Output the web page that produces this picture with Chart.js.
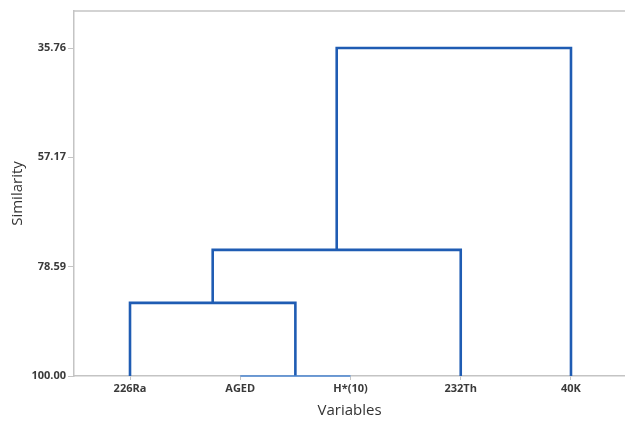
<!DOCTYPE html>
<html>
<head>
<meta charset="utf-8">
<script src="https://cdn.jsdelivr.net/npm/chart.js@4/dist/chart.umd.min.js"></script>
<style>
  html, body { margin: 0; padding: 0; background: #fff; }
  #wrap { width: 625px; height: 422px; }
</style>
</head>
<body>
<div id="wrap"><canvas id="dendro"></canvas></div>
<script>
// leaves, left to right
var categories = ['226Ra', 'AGED', 'H*(10)', '232Th', '40K'];
// merge steps: nodes 0-4 are leaves, each merge makes node 5, 6, ...
var mergeLeft = [1, 0, 6, 7];
var mergeRight = [2, 5, 3, 4];
var mergeSimilarity = [100.00, 85.68, 75.29, 35.76];
var yTickValues = [35.76, 57.17, 78.59, 100.00];

var nodeX = categories.map(function (c, i) { return i; });
var nodeH = categories.map(function () { return 100; });

var datasets = [];
for (var i = 0; i < mergeLeft.length; i++) {
    var a = mergeLeft[i], b = mergeRight[i], h = mergeSimilarity[i];
    var flat = h === 100;
    datasets.push({
        data: [
            { x: nodeX[a], y: nodeH[a] },
            { x: nodeX[a], y: h },
            { x: nodeX[b], y: h },
            { x: nodeX[b], y: nodeH[b] }
        ],
        borderColor: flat ? '#4b87d3' : '#1f5cb3',
        borderWidth: flat ? 1.6 : 2.6,
        pointRadius: 0,
        tension: 0,
        clip: 6,
        borderJoinStyle: 'miter'
    });
    nodeX.push((nodeX[a] + nodeX[b]) / 2);
    nodeH.push(h);
}

var topFrame = {
    id: 'topFrame',
    afterDraw: function (chart) {
        var ca = chart.chartArea, c = chart.ctx;
        c.save();
        c.strokeStyle = '#c4c4c4';
        c.lineWidth = 1.5;
        c.beginPath();
        c.moveTo(ca.left, ca.top);
        c.lineTo(ca.right, ca.top);
        c.stroke();
        c.restore();
    }
};

var ctx = document.getElementById('dendro').getContext('2d');
var chart = new Chart(ctx, {
    type: 'line',
    data: { datasets: datasets },
    options: {
        responsive: true,
        maintainAspectRatio: false,
        animation: false,
        layout: { padding: { top: 11, right: 0, left: 0, bottom: 0 } },
        plugins: { legend: { display: false }, tooltip: { enabled: false } },
        scales: {
            x: {
                type: 'linear',
                min: -0.508,
                max: 4.49,
                afterBuildTicks: function (scale) {
                    scale.ticks = categories.map(function (c, i) { return { value: i }; });
                },
                afterFit: function (scale) { scale.height = 46; },
                ticks: {
                    callback: function (v) { return categories[v]; },
                    color: '#3a3a3a',
                    font: { family: 'Open Sans', size: 11, weight: 'bold' },
                    padding: 2,
                    maxRotation: 0,
                    autoSkip: false
                },
                grid: { drawOnChartArea: false, drawTicks: true, tickLength: 4, color: '#c4c4c4' },
                border: { color: '#c4c4c4', width: 1.5 },
                title: {
                    display: true,
                    text: 'Variables',
                    color: '#333',
                    font: { family: 'Open Sans', size: 15 },
                    padding: { top: 0, bottom: 2 }
                }
            },
            y: {
                type: 'linear',
                reverse: true,
                min: 28.51,
                max: 100,
                afterBuildTicks: function (scale) {
                    scale.ticks = yTickValues.map(function (v) { return { value: v }; });
                },
                afterFit: function (scale) { scale.width = 74; },
                ticks: {
                    callback: function (v) { return v.toFixed(2); },
                    color: '#3a3a3a',
                    font: { family: 'Open Sans', size: 11, weight: 'bold' },
                    padding: 2
                },
                grid: { drawOnChartArea: false, drawTicks: true, tickLength: 6, color: '#c4c4c4' },
                border: { color: '#c4c4c4', width: 1.5 },
                title: {
                    display: true,
                    text: 'Similarity',
                    color: '#333',
                    font: { family: 'Open Sans', size: 15 },
                    padding: { top: 9, bottom: 0 }
                }
            }
        }
    },
    plugins: [topFrame]
});
</script>
</body>
</html>
